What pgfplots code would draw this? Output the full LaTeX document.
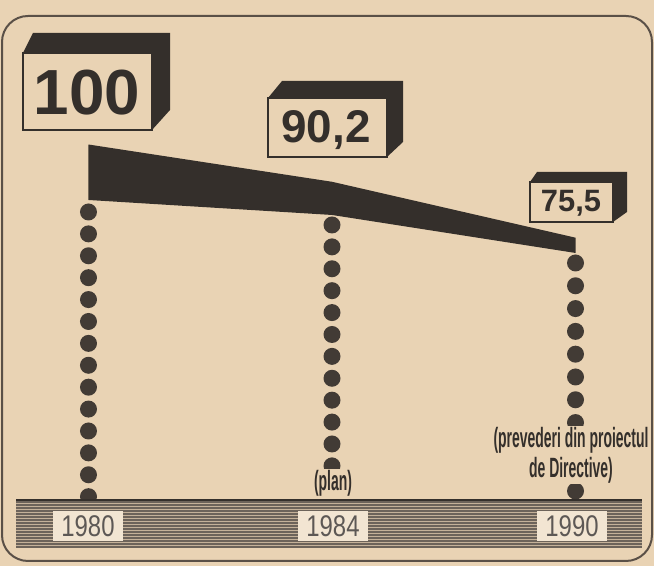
\documentclass[border=0pt]{standalone}
\usepackage{fontspec}
\setmainfont{Liberation Sans}
\newfontfamily\narrowfont[FakeStretch=0.5]{Liberation Sans}
\newfontfamily\yearfont[FakeStretch=0.8]{Liberation Sans}
\usepackage{pgfplots}
\pgfplotsset{compat=1.18}

\definecolor{paper}{RGB}{233,211,180}
\definecolor{ink}{RGB}{52,47,43}
\definecolor{dotc}{RGB}{66,59,53}
\definecolor{stripe}{RGB}{108,99,90}
\definecolor{framec}{RGB}{90,80,71}

\pgfplotsset{
  dotline/.style={dotc, line width=17bp, line cap=round, dash pattern=on 0bp off #1},
}

\begin{document}
\begin{tikzpicture}[x=1bp, y=1bp]
\fill[paper] (0,0) rectangle (654,566);
\useasboundingbox (0,0) rectangle (654,566);

% frame, in pixel coordinates (y down)
\begin{scope}[yshift=566bp, y=-1bp]
  \draw[framec, line width=2bp, rounded corners=26bp] (2,16) rectangle (652,561);
\end{scope}

\begin{axis}[at={(0,0)}, anchor=south west, scale only axis,
  width=654bp, height=566bp,
  xmin=-0.3634, xmax=2.3224, ymin=-10.83, ymax=138.00,
  hide axis, clip=false]
% index: 0 = 1980, 1 = 1984, 2 = 1990
\addplot[dotline=21.9bp] coordinates {(0,82.26) (0,2.0)};
\addplot[dotline=21.9bp] coordinates {(1,78.84) (1,2.0)};
\addplot[dotline=22.8bp] coordinates {(2,68.85) (2,2.0)};
% ribbon: top edge = values, bottom edge below it
\addplot[fill=ink, draw=none] coordinates {
  (0,100) (1,90.2) (2,75.5) (2,71.48) (1,81.47) (0,85.41)} -- cycle;
\end{axis}

\begin{scope}[yshift=566bp, y=-1bp]
  % striped base band
  \fill[paper!70!stripe] (16,500) rectangle (642,548);
  \foreach \yy in {502,505,...,547}
    \draw[stripe, line width=1.7bp] (16,\yy) -- (642,\yy);
  \draw[ink, line width=2bp] (16,500) -- (642,500);
  \foreach \xx/\yr in {88/1980, 333/1984, 572/1990}
    \node[fill=paper!60!white, minimum width=70bp, minimum height=30bp,
          inner sep=0pt, text=ink!80, font=\yearfont\fontsize{30}{30}\selectfont]
          at (\xx,526) {\yr};

  % notes under the dotted lines
  \node[fill=paper, inner sep=1bp, text=ink,
        font=\narrowfont\bfseries\fontsize{28}{28}\selectfont]
        at (333,483) {(plan)};
  \node[fill=paper, inner sep=1bp, text=ink, align=center,
        font=\narrowfont\bfseries\fontsize{28}{30}\selectfont]
        at (571,455) {(prevederi din proiectul\\de Directive)};

  % value boxes
  \fill[ink] (23,53) -- (33,33) -- (170,33) -- (170,110) -- (152,130) -- cycle;
  \draw[ink, fill=paper, line width=2.5bp] (23,53) rectangle (152,130);
  \node[anchor=base, inner sep=0pt, text=ink,
        font=\bfseries\fontsize{64}{64}\selectfont] at (87,115) {100};

  \fill[ink] (268,98) -- (282,81) -- (403,81) -- (403,142) -- (387,157) -- cycle;
  \draw[ink, fill=paper, line width=2.5bp] (268,98) rectangle (387,157);
  \node[anchor=base, inner sep=0pt, text=ink,
        font=\bfseries\fontsize{46}{46}\selectfont] at (326,143) {90,2};

  \fill[ink] (530,182) -- (537,172) -- (627,172) -- (627,212) -- (613,222) -- cycle;
  \draw[ink, fill=paper, line width=2.2bp] (530,182) rectangle (613,222);
  \node[anchor=base, inner sep=0pt, text=ink,
        font=\bfseries\fontsize{31}{31}\selectfont] at (571,212) {75,5};
\end{scope}
\end{tikzpicture}
\end{document}
